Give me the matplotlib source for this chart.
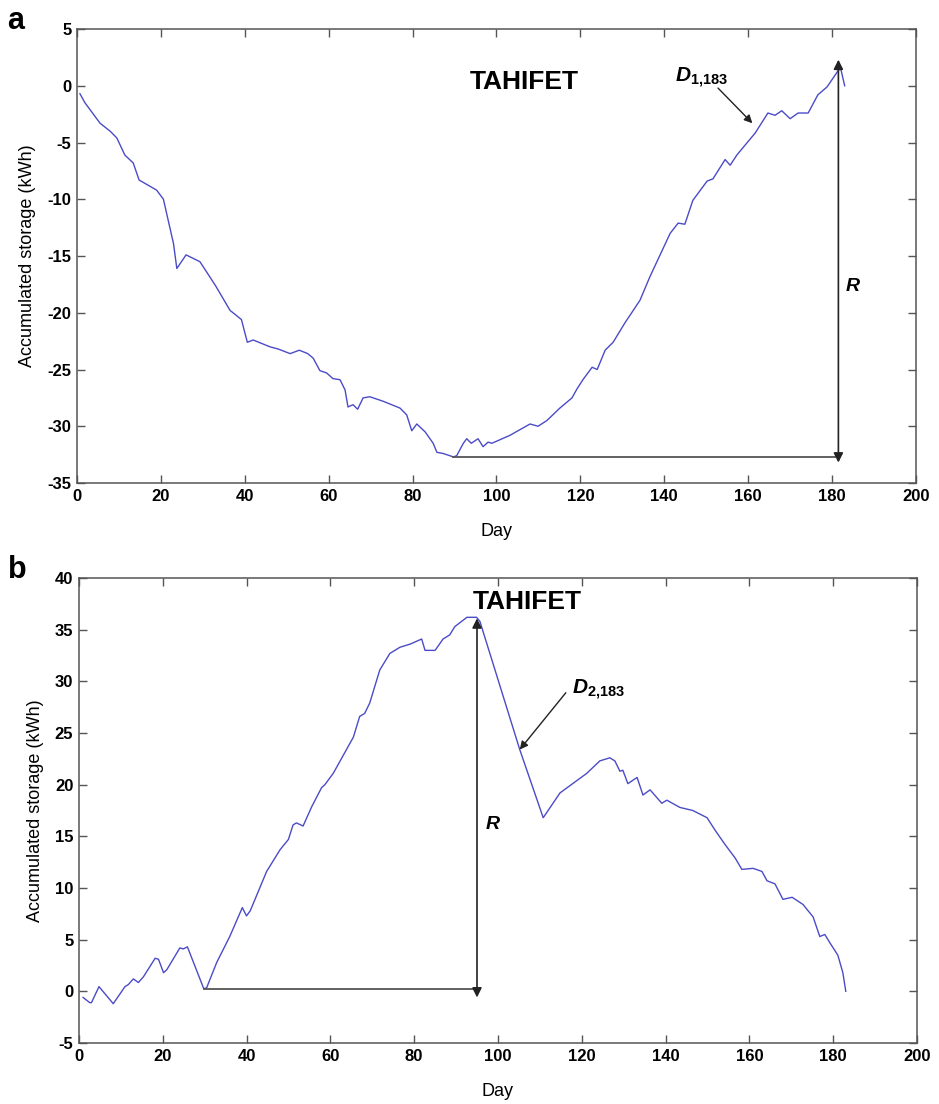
import numpy as np
import matplotlib.pyplot as plt

plt.rcParams['font.family'] = ['Liberation Sans', 'DejaVu Sans']
plt.rcParams['axes.unicode_minus'] = False
plt.rcParams['mathtext.fontset'] = 'custom'
plt.rcParams['mathtext.rm'] = 'Liberation Sans'
plt.rcParams['mathtext.it'] = 'Liberation Sans:italic'
plt.rcParams['mathtext.bf'] = 'Liberation Sans:bold'
plt.rcParams['mathtext.bfit'] = 'Liberation Sans:italic:bold'

# panel a: accumulated storage
day_a = [0.7, 1.9, 5.5, 7.9, 9.5, 11.4, 13.4, 14.8, 19, 20.6, 23, 23.8, 26, 29.3, 33,
         36.5, 37.2, 39.2, 40.6, 42, 44, 46, 48, 50.8, 53, 55, 56.3, 57.9, 59.5, 61,
         62.7, 63.9, 64.6, 65.8, 66.9, 68.2, 69.8, 73, 77, 78.6, 79.8, 81, 83, 84.9,
         85.8, 87.3, 89.7, 90.5, 92.1, 92.9, 94, 95.6, 96.8, 98, 98.9, 103.2, 108,
         109.9, 112, 115.1, 118, 119.2, 120.6, 122.8, 124, 125.9, 127.8, 130.6, 134.2,
         136.6, 141.4, 143.3, 144.9, 146.8, 150.2, 151.6, 154.5, 155.7, 157.3, 160.9,
         161.6, 164.7, 166.4, 168, 170, 171.9, 174.3, 176.6, 178.8, 181.2, 182, 183]
stor_a = [-0.7, -1.5, -3.3, -4.0, -4.6, -6.1, -6.8, -8.3, -9.2, -10.0, -13.9, -16.1, -14.9,
          -15.5, -17.6, -19.8, -20.0, -20.6, -22.6, -22.4, -22.7, -23.0, -23.2, -23.6,
          -23.3, -23.6, -24.0, -25.1, -25.3, -25.8, -25.9, -26.8, -28.3, -28.1, -28.5,
          -27.5, -27.4, -27.8, -28.4, -29.0, -30.4, -29.8, -30.5, -31.5, -32.3, -32.4,
          -32.7, -32.6, -31.5, -31.1, -31.5, -31.1, -31.8, -31.4, -31.5, -30.8, -29.8,
          -30.0, -29.5, -28.4, -27.5, -26.7, -25.9, -24.8, -25.0, -23.3, -22.6, -20.9,
          -18.9, -16.8, -13.0, -12.1, -12.2, -10.1, -8.4, -8.2, -6.5, -7.0, -6.1, -4.5,
          -4.2, -2.4, -2.6, -2.2, -2.9, -2.4, -2.4, -0.8, -0.1, 1.2, 1.6, 0.0]

# panel b
day_b = [1, 2.6, 3, 4.8, 8.2, 11, 11.8, 13, 14.2, 15.4, 18.2, 19, 20.2, 21, 24.1, 24.9,
         25.9, 29.8, 30.5, 32.9, 36, 39, 40, 40.9, 44.8, 48, 50, 51.1, 51.9, 53.5, 55.6,
         57.9, 58.7, 60.7, 65.5, 67, 68.2, 69.4, 71.8, 74.2, 76.6, 79, 81.8, 82.6, 85,
         86.9, 88.5, 89.7, 92.6, 94.9, 95.7, 105.2, 110.8, 114.8, 121.2, 124.3, 126.7,
         127.9, 129.1, 129.8, 131, 133.2, 134.6, 136.3, 139.1, 140.3, 143.4, 146.5,
         149.9, 151.8, 154.2, 156.6, 158.2, 160.9, 163, 164.2, 166.1, 168, 170.2, 172.8,
         175.2, 176.8, 178, 179.2, 181.1, 182.3, 183]
stor_b = [-0.6, -1.1, -1.1, 0.45, -1.2, 0.45, 0.65, 1.2, 0.85, 1.4, 3.2, 3.1, 1.8, 2.1,
          4.2, 4.1, 4.3, 0.25, 0.35, 2.8, 5.3, 8.1, 7.3, 7.8, 11.6, 13.7, 14.7, 16.1,
          16.3, 16.0, 17.9, 19.7, 20.0, 21.1, 24.6, 26.6, 26.9, 27.9, 31.1, 32.7, 33.3,
          33.6, 34.1, 33.0, 33.0, 34.1, 34.5, 35.3, 36.2, 36.2, 35.8, 23.4, 16.8, 19.2,
          21.1, 22.3, 22.6, 22.3, 21.3, 21.4, 20.1, 20.7, 19.0, 19.5, 18.2, 18.5, 17.8,
          17.5, 16.8, 15.6, 14.2, 12.9, 11.8, 11.9, 11.6, 10.7, 10.4, 8.9, 9.1, 8.4,
          7.2, 5.3, 5.5, 4.7, 3.5, 1.8, 0.0]

xticks = np.arange(0, 201, 20)
yticks_a = np.arange(-35, 6, 5)
yticks_b = np.arange(-5, 41, 5)

line_col = '#4b4bc8'
grey = '#555555'

fig = plt.figure(figsize=(9.39, 11.04), dpi=100)
ax1 = fig.add_axes([0.082, 0.5625, 0.8935, 0.4112])
ax2 = fig.add_axes([0.084, 0.0553, 0.8926, 0.4211])


def style(ax, yt):
    ax.set_xlim(0, 200)
    ax.set_xticks(xticks)
    ax.set_ylim(yt[0], yt[-1])
    ax.set_yticks(yt)
    ax.tick_params(direction='in', length=6, width=1, color=grey, top=True,
                   right=True, labelsize=12, pad=4)
    for lab in ax.get_xticklabels() + ax.get_yticklabels():
        lab.set_fontweight('bold')
    for s in ax.spines.values():
        s.set_color(grey)
        s.set_linewidth(1.1)
    ax.set_xlabel('Day', fontsize=13, labelpad=14)
    ax.set_ylabel('Accumulated storage (kWh)', fontsize=13, labelpad=8)


# panel a
ax1.plot(day_a, stor_a, color=line_col, lw=1)
style(ax1, yticks_a)
imin = int(np.argmin(stor_a))
ax1.plot([day_a[imin], 181.5], [stor_a[imin], stor_a[imin]], color=grey, lw=1.3)
ax1.annotate('', xy=(181.5, 2.3), xytext=(181.5, -33.2),
             arrowprops=dict(arrowstyle='<|-|>', color='#222222', lw=1.2,
                             mutation_scale=14, shrinkA=0, shrinkB=0))
ax1.text(106.5, 0.3, 'TAHIFET', fontsize=19, fontweight='bold', ha='center', va='center')
ax1.text(149, 0.7, r'$\mathbfit{D}_{\mathbf{1{,}183}}$', fontsize=15, ha='center', va='center')
ax1.annotate('', xy=(161, -3.3), xytext=(152.8, -0.2),
             arrowprops=dict(arrowstyle='-|>', color='#222222', lw=1,
                             mutation_scale=12, shrinkA=0, shrinkB=0))
ax1.text(185, -17.7, 'R', fontsize=14, fontweight='bold', style='italic',
         ha='center', va='center')

# panel b
ax2.plot(day_b, stor_b, color=line_col, lw=1)
style(ax2, yticks_b)
ax2.plot([29.8, 95], [0.25, 0.25], color=grey, lw=1.3)
ax2.annotate('', xy=(95, 36.1), xytext=(95, -0.6),
             arrowprops=dict(arrowstyle='<|-|>', color='#222222', lw=1.2,
                             mutation_scale=14, shrinkA=0, shrinkB=0))
ax2.text(107, 37.7, 'TAHIFET', fontsize=19, fontweight='bold', ha='center', va='center')
ax2.text(124, 29.2, r'$\mathbfit{D}_{\mathbf{2{,}183}}$', fontsize=15, ha='center', va='center')
ax2.annotate('', xy=(105.2, 23.4), xytext=(116.2, 28.9),
             arrowprops=dict(arrowstyle='-|>', color='#222222', lw=1,
                             mutation_scale=12, shrinkA=0, shrinkB=0))
ax2.text(98.8, 16.1, 'R', fontsize=14, fontweight='bold', style='italic',
         ha='center', va='center')

fig.text(0.008, 0.995, 'a', fontsize=22, fontweight='bold', va='top')
fig.text(0.008, 0.497, 'b', fontsize=22, fontweight='bold', va='top')

fig.savefig('out.png', dpi=100)
